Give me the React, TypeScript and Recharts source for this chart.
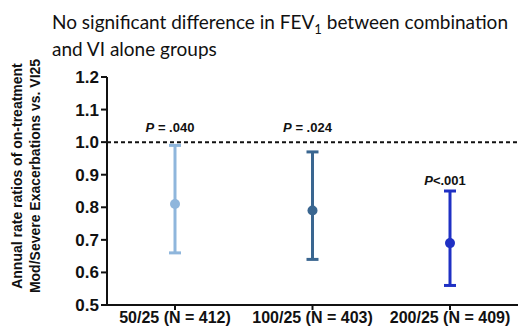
import React from "react";
import {
  ComposedChart,
  ErrorBar,
  LabelList,
  Line,
  ReferenceLine,
  XAxis,
  YAxis,
} from "recharts";

const groups = ["50/25 (N = 412)", "100/25 (N = 403)", "200/25 (N = 409)"];
const rateRatios = [0.81, 0.79, 0.69];
const lowerCI = [0.66, 0.64, 0.56];
const upperCI = [0.99, 0.97, 0.85];
const pLabels = ["= .040", "= .024", "<.001"];
const pLabelAt = [1.03, 1.03, 0.868];
const colors = ["#8fb6dc", "#3a6690", "#1f30c4"];
const yTicks = [0.5, 0.6, 0.7, 0.8, 0.9, 1.0, 1.1, 1.2];

// one key per dose so each point gets its own colour and error bar
const rows = groups.map((group, i) => {
  const row: any = { group, pAt: pLabelAt[i], p: pLabels[i] };
  row[`rate${i}`] = rateRatios[i];
  row[`err${i}`] = [rateRatios[i] - lowerCI[i], upperCI[i] - rateRatios[i]];
  return row;
});

const ARIAL = "'Liberation Sans', Arial, sans-serif";

function PLabel(props: any) {
  const { x, y, value } = props;
  if (value == null) return null;
  return (
    <text
      x={x - 5}
      y={y}
      textAnchor="middle"
      fontFamily={ARIAL}
      fontWeight="bold"
      fontSize={13}
      fill="#111"
    >
      <tspan fontStyle="italic">P</tspan>
      {value.startsWith("<") ? "" : " "}
      {value}
    </text>
  );
}

function YLabel() {
  return (
    <text
      transform="translate(26,176) rotate(-90)"
      textAnchor="middle"
      fontFamily={ARIAL}
      fontWeight="bold"
      fontSize={14}
      fill="#111"
    >
      <tspan x={0} dy={-4}>Annual rate ratios of on-treatment</tspan>
      <tspan x={0} dy={18}>Mod/Severe Exacerbations vs. VI25</tspan>
    </text>
  );
}

export default function App() {
  return (
    <div
      style={{
        position: "absolute",
        left: 0,
        top: 0,
        width: 518,
        height: 329,
        background: "#fff",
      }}
    >
      <div
        style={{
          position: "absolute",
          left: 52,
          top: 8,
          fontFamily: "Lato, 'Open Sans', sans-serif",
          fontSize: 19,
          lineHeight: "27px",
          color: "#111",
          whiteSpace: "nowrap",
        }}
      >
        No significant difference in FEV
        <sub style={{ fontSize: 13, lineHeight: 0 }}>1</sub> between combination
        <br />
        and VI alone groups
      </div>
      <ComposedChart
        width={518}
        height={329}
        data={rows}
        margin={{ top: 77, right: 0, bottom: 0, left: 0 }}
        style={{ position: "absolute", left: 0, top: 0 }}
      >
        <XAxis
          dataKey="group"
          type="category"
          height={24}
          padding={{ left: 68, right: 68 }}
          axisLine={{ stroke: "#111", strokeWidth: 2 }}
          tickLine={{ stroke: "#111", strokeWidth: 2 }}
          tickSize={5}
          tick={{ fill: "#111", fontFamily: ARIAL, fontWeight: "bold", fontSize: 16 }}
          interval={0}
        />
        <YAxis
          type="number"
          domain={[0.5, 1.2]}
          ticks={yTicks}
          width={107}
          allowDataOverflow
          tickFormatter={(v: number) => v.toFixed(1)}
          axisLine={{ stroke: "#111", strokeWidth: 2 }}
          tickLine={{ stroke: "#111", strokeWidth: 2 }}
          tickSize={6}
          tick={{ fill: "#111", fontFamily: ARIAL, fontWeight: "bold", fontSize: 17 }}
          label={<YLabel />}
        />
        <ReferenceLine y={1} stroke="#111" strokeWidth={2} strokeDasharray="4 3" />
        {groups.map((g, i) => (
          <Line
            key={g}
            dataKey={`rate${i}`}
            stroke="none"
            dot={{ r: 5, fill: colors[i], stroke: "none" }}
            activeDot={false}
            isAnimationActive={false}
          >
            <ErrorBar
              dataKey={`err${i}`}
              direction="y"
              width={6}
              stroke={colors[i]}
              strokeWidth={3}
              isAnimationActive={false}
            />
          </Line>
        ))}
        <Line
          dataKey="pAt"
          stroke="none"
          dot={false}
          activeDot={false}
          isAnimationActive={false}
        >
          <LabelList dataKey="p" content={<PLabel />} />
        </Line>
      </ComposedChart>
    </div>
  );
}
